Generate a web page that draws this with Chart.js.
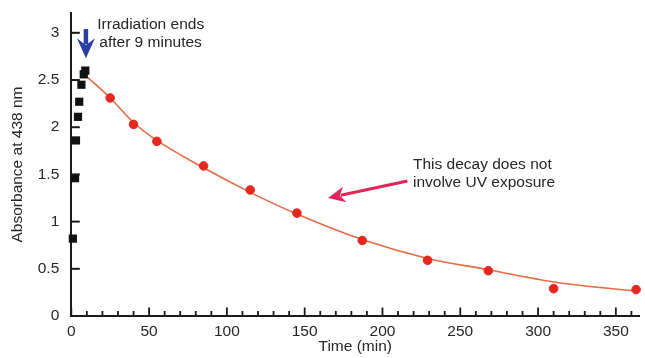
<!DOCTYPE html>
<html>
<head>
<meta charset="utf-8">
<script src="https://cdn.jsdelivr.net/npm/chart.js@4/dist/chart.umd.min.js"></script>
<style>
  html, body { margin: 0; padding: 0; background: #fff; }
  #wrap { width: 645px; height: 358px; position: relative; }
</style>
</head>
<body>
<div id="wrap"><canvas id="c"></canvas></div>
<script>
// Irradiation phase (black squares)
const irradTime = [1, 2.4, 3, 4.3, 5.1, 6.5, 8, 9];
const irradAbs  = [0.82, 1.46, 1.86, 2.11, 2.27, 2.45, 2.56, 2.60];
// Dark decay (red circles)
const decayTime = [25, 40, 55, 85, 115, 145, 187, 229, 268, 310, 363];
const decayAbs  = [2.31, 2.03, 1.85, 1.59, 1.335, 1.09, 0.80, 0.59, 0.48, 0.29, 0.28];
// Fitted curve
const fitTime = [9, 25, 40, 55, 85, 115, 145, 187, 229, 268, 310, 365];
const fitAbs  = [2.55, 2.31, 2.05, 1.86, 1.57, 1.31, 1.08, 0.81, 0.61, 0.49, 0.36, 0.26];
// Tick labels
const xTickValues = [0, 50, 100, 150, 200, 250, 300, 350];
const yTickValues = [0, 0.5, 1, 1.5, 2, 2.5, 3];
const xMinorTickValues = [0, 10, 20, 30, 40, 50, 60, 70, 80, 90, 100, 110, 120, 130, 140, 150, 160, 170, 180,
  190, 200, 210, 220, 230, 240, 250, 260, 270, 280, 290, 300, 310, 320, 330, 340, 350, 360];

const FONT = '"Liberation Sans", Arial, Helvetica, sans-serif';
const TXT = '#262626';
const AXIS = '#1a1a1a';

const toXY = (xs, ys) => xs.map((x, i) => ({ x, y: ys[i] }));

const annot = {
  id: 'annot',
  afterDraw(chart) {
    const ctx = chart.ctx;
    const xs = chart.scales.x, ys = chart.scales.y;
    const L = chart.chartArea.left, B = chart.chartArea.bottom;
    ctx.save();
    // inward ticks
    ctx.fillStyle = AXIS;
    yTickValues.forEach(v => {
      const py = ys.getPixelForValue(v);
      ctx.fillRect(L, py - 1, 8.5, 2);
    });
    xMinorTickValues.forEach(v => {
      const px = xs.getPixelForValue(v);
      const len = (v % 50 === 0) ? 8.5 : 5;
      ctx.fillRect(px - 0.9, B - len, 1.8, len);
    });

    // Blue arrow (end of irradiation)
    const bx = xs.getPixelForValue(9.4);
    const bTop = ys.getPixelForValue(3.04);
    const bTip = ys.getPixelForValue(2.73);
    ctx.fillStyle = '#2b3ea3';
    ctx.strokeStyle = '#2b3ea3';
    ctx.lineWidth = 4.5;
    ctx.beginPath(); ctx.moveTo(bx, bTop); ctx.lineTo(bx, bTip - 14); ctx.stroke();
    ctx.beginPath();
    ctx.moveTo(bx - 9, bTip - 20);
    ctx.lineTo(bx, bTip - 13);
    ctx.lineTo(bx + 9, bTip - 20);
    ctx.lineTo(bx, bTip);
    ctx.closePath(); ctx.fill();

    // Red arrow
    const tx = xs.getPixelForValue(216), ty = ys.getPixelForValue(1.43);
    const hx = xs.getPixelForValue(165), hy = ys.getPixelForValue(1.25);
    const ang = Math.atan2(hy - ty, hx - tx);
    ctx.strokeStyle = '#e2255b';
    ctx.fillStyle = '#e2255b';
    ctx.lineWidth = 3;
    const hl = 17, hw = 8;
    const bxp = hx - Math.cos(ang) * (hl - 4), byp = hy - Math.sin(ang) * (hl - 4);
    ctx.beginPath(); ctx.moveTo(tx, ty); ctx.lineTo(bxp, byp); ctx.stroke();
    const cx = hx - Math.cos(ang) * hl, cy = hy - Math.sin(ang) * hl;
    ctx.beginPath();
    ctx.moveTo(hx, hy);
    ctx.lineTo(cx + Math.sin(ang) * hw, cy - Math.cos(ang) * hw);
    ctx.lineTo(hx - Math.cos(ang) * (hl - 5), hy - Math.sin(ang) * (hl - 5));
    ctx.lineTo(cx - Math.sin(ang) * hw, cy + Math.cos(ang) * hw);
    ctx.closePath(); ctx.fill();

    // Texts
    ctx.fillStyle = TXT;
    ctx.font = '15.5px ' + FONT;
    ctx.textAlign = 'left';
    ctx.textBaseline = 'middle';
    const ax = xs.getPixelForValue(16.7);
    ctx.fillText('Irradiation ends', ax, ys.getPixelForValue(3.09));
    ctx.fillText('after 9 minutes', ax + 2, ys.getPixelForValue(2.90));
    const dx = xs.getPixelForValue(219.6);
    ctx.fillText('This decay does not', dx, ys.getPixelForValue(1.60));
    ctx.fillText('involve UV exposure', dx, ys.getPixelForValue(1.41));
    ctx.restore();
  }
};

new Chart(document.getElementById('c'), {
  type: 'scatter',
  data: {
    datasets: [
      {
        type: 'line',
        label: 'Fit',
        data: toXY(fitTime, fitAbs),
        borderColor: '#ea6a45',
        borderWidth: 1.6,
        pointRadius: 0,
        cubicInterpolationMode: 'monotone',
        fill: false,
        order: 3
      },
      {
        label: 'Decay',
        data: toXY(decayTime, decayAbs),
        backgroundColor: '#e5281f',
        borderColor: '#e5281f',
        pointRadius: 4.3,
        pointStyle: 'circle',
        order: 2
      },
      {
        label: 'Irradiation',
        data: toXY(irradTime, irradAbs),
        backgroundColor: '#111',
        borderColor: '#111',
        borderWidth: 0,
        pointRadius: 5.8,
        pointStyle: 'rect',
        order: 1
      }
    ]
  },
  options: {
    responsive: true,
    maintainAspectRatio: false,
    animation: false,
    clip: false,
    layout: { padding: { top: 13, right: 5, left: 0, bottom: 0 } },
    plugins: { legend: { display: false }, tooltip: { enabled: false } },
    scales: {
      x: {
        type: 'linear',
        min: 0, max: 365,
        afterBuildTicks: s => { s.ticks = xTickValues.map(v => ({ value: v })); },
        afterFit: s => { s.height = 42; },
        grid: { display: false, drawTicks: false },
        border: { display: true, color: AXIS, width: 2 },
        ticks: { color: TXT, font: { family: FONT, size: 15.5 }, padding: 6, maxRotation: 0, autoSkip: false,
                 callback: v => String(v) },
        title: { display: true, text: 'Time (min)', color: TXT, font: { family: FONT, size: 15.5 }, padding: { top: 0, bottom: 2 } }
      },
      y: {
        type: 'linear',
        min: 0, max: 3.21,
        afterBuildTicks: s => { s.ticks = yTickValues.map(v => ({ value: v })); },
        afterFit: s => { s.width = 71.3; },
        grid: { display: false, drawTicks: true, tickLength: 9 },
        border: { display: true, color: AXIS, width: 2 },
        ticks: { color: TXT, font: { family: FONT, size: 15.5 }, padding: 3, callback: v => String(v) },
        title: { display: true, text: 'Absorbance at 438 nm', color: TXT, font: { family: FONT, size: 15.5 }, padding: { top: 8, bottom: 0 } }
      }
    }
  },
  plugins: [annot]
});
</script>
</body>
</html>
